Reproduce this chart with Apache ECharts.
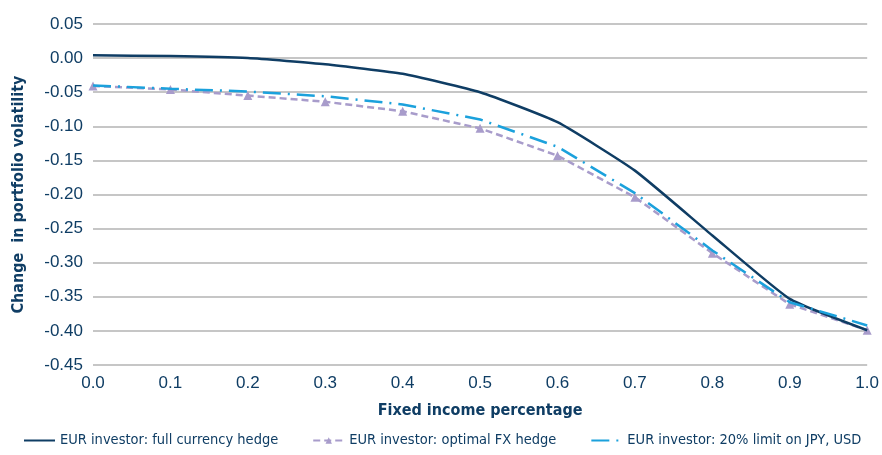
<!DOCTYPE html>
<html>
<head>
<meta charset="utf-8">
<script src="https://cdn.jsdelivr.net/npm/echarts@6/dist/echarts.min.js"></script>
<style>
  html, body { margin: 0; padding: 0; background: #fff; }
  #chart { width: 882px; height: 455px; }
</style>
</head>
<body>
<div id="chart"></div>
<script>
// data
var xValues = [0.0, 0.1, 0.2, 0.3, 0.4, 0.5, 0.6, 0.7, 0.8, 0.9, 1.0];
var fullHedge = [0.004, 0.003, 0.000, -0.009, -0.023, -0.050, -0.094, -0.165, -0.260, -0.353, -0.399];
var optimalHedge = [-0.041, -0.046, -0.055, -0.064, -0.078, -0.103, -0.143, -0.204, -0.286, -0.361, -0.399];
var limitHedge = [-0.040, -0.045, -0.049, -0.056, -0.068, -0.090, -0.130, -0.198, -0.282, -0.358, -0.392];
var seriesNames = [
  "EUR investor: full currency hedge",
  "EUR investor: optimal FX hedge",
  "EUR investor: 20% limit on JPY, USD"
];

function pairs(ys) {
  return xValues.map(function (x, i) { return [x, ys[i]]; });
}

var navy = "#0f3d64";
var narrow = "'DejaVu Sans Condensed', 'Liberation Sans Narrow', sans-serif";
var chart = echarts.init(document.getElementById("chart"));

var option = {
  animation: false,
  backgroundColor: "#fff",
  grid: { left: 93, right: 14, top: 24, bottom: 90, containLabel: false },
  legend: {
    bottom: 2,
    left: 18,
    width: 864,
    itemGap: 34,
    itemWidth: 31,
    itemHeight: 8,
    textStyle: { color: navy, fontFamily: narrow, fontSize: 14.5 },
    data: [
      { name: seriesNames[0], itemStyle: { color: "transparent", borderWidth: 0 } },
      { name: seriesNames[1] },
      { name: seriesNames[2], itemStyle: { color: "transparent", borderWidth: 0 } }
    ]
  },
  xAxis: {
    type: "value",
    min: 0,
    max: 1,
    interval: 0.1,
    name: "Fixed income percentage",
    nameLocation: "middle",
    nameGap: 38,
    nameTextStyle: { color: navy, fontFamily: narrow, fontWeight: "bold", fontSize: 16 },
    axisLine: { show: false },
    axisTick: { show: false },
    splitLine: { show: false },
    axisLabel: {
      color: navy, fontFamily: "Liberation Sans", fontSize: 17, margin: 10,
      formatter: function (v) { return v.toFixed(1); }
    }
  },
  yAxis: {
    type: "value",
    min: -0.45,
    max: 0.05,
    interval: 0.05,
    name: "Change  in portfolio volatility",
    nameLocation: "middle",
    nameGap: 66,
    nameTextStyle: { color: navy, fontFamily: narrow, fontWeight: "bold", fontSize: 16 },
    axisLine: { show: false },
    axisTick: { show: false },
    splitLine: { lineStyle: { color: "#b3b3b3", width: 1.5 } },
    axisLabel: {
      color: navy, fontFamily: "Liberation Sans", fontSize: 17, margin: 10,
      formatter: function (v) { return v.toFixed(2); }
    }
  },
  series: [
    {
      name: seriesNames[0],
      type: "line",
      data: pairs(fullHedge),
      symbol: "none",
      smooth: 0.15,
      z: 3,
      lineStyle: { color: navy, width: 2.5 },
      itemStyle: { color: navy }
    },
    {
      name: seriesNames[1],
      type: "line",
      data: pairs(optimalHedge),
      symbol: "triangle",
      symbolSize: 9,
      z: 2,
      lineStyle: { color: "#a89ccb", width: 2.5, type: [7, 4] },
      itemStyle: { color: "#a89ccb" }
    },
    {
      name: seriesNames[2],
      type: "line",
      data: pairs(limitHedge),
      symbol: "none",
      z: 4,
      lineStyle: { color: "#1ba1dc", width: 2.5, type: [18, 7, 2, 7] },
      itemStyle: { color: "#1ba1dc" }
    }
  ]
};

option && chart.setOption(option);
</script>
</body>
</html>
